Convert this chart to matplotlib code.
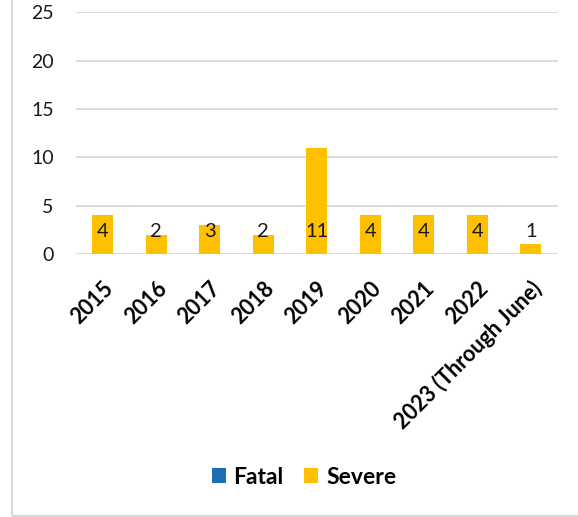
import matplotlib.pyplot as plt
from matplotlib.patches import Rectangle
import numpy as np

plt.rcParams['font.family'] = ['Lato', 'DejaVu Sans']

years = ['2015', '2016', '2017', '2018', '2019', '2020', '2021', '2022',
         '2023 (Through June)']
fatal = [0, 0, 0, 0, 0, 0, 0, 0, 0]
severe = [4, 2, 3, 2, 11, 4, 4, 4, 1]
yticks = [0, 5, 10, 15, 20, 25]

blue = '#1F6EB5'
gold = '#FFC000'
grid_c = '#D9D9D9'

fig = plt.figure(figsize=(5.78, 5.17), dpi=100)
ax = fig.add_axes([76 / 578, 1 - 254 / 517, 481.5 / 578, 241.7 / 517])

x = np.arange(len(years))
ax.bar(x, fatal, width=0.4, color=blue, label='Fatal', zorder=3)
ax.bar(x, severe, width=0.4, bottom=fatal, color=gold, label='Severe', zorder=3)

# labels sit near the base of each bar
for xi, v in zip(x, severe):
    ax.annotate(str(v), (xi, 0), xytext=(0, 16), textcoords='offset points',
                ha='center', va='center', fontsize=14.5, color='#1a1a1a', zorder=4)

ax.set_xlim(-0.5, len(years) - 0.5)
ax.set_ylim(0, 25)
ax.set_yticks(yticks)
ax.yaxis.grid(True, color=grid_c, lw=1.3, zorder=0)
ax.set_axisbelow(True)
for s in ax.spines.values():
    s.set_visible(False)
ax.tick_params(axis='y', length=0, pad=16, labelsize=14, labelcolor='#1a1a1a')
ax.tick_params(axis='x', length=0, pad=17)
ax.set_xticks(x)
ax.set_xticklabels(years, rotation=45, ha='right', va='top',
                   rotation_mode='anchor', fontsize=15.5, fontweight='bold')

leg = fig.legend(loc='center', bbox_to_anchor=(304 / 578, 1 - 477 / 517), ncol=2,
                 frameon=False, prop={'weight': 'bold', 'size': 16.5},
                 handlelength=0.6, handleheight=0.6, handletextpad=0.35,
                 columnspacing=0.9)

# chart-area border (left and bottom edges visible)
fig.patches.append(Rectangle((12 / 578, 1.5 / 517), 1.2, 1.2,
                             transform=fig.transFigure, fill=False,
                             edgecolor='#D9D9D9', lw=1.5))

fig.savefig('out.png', dpi=100)
